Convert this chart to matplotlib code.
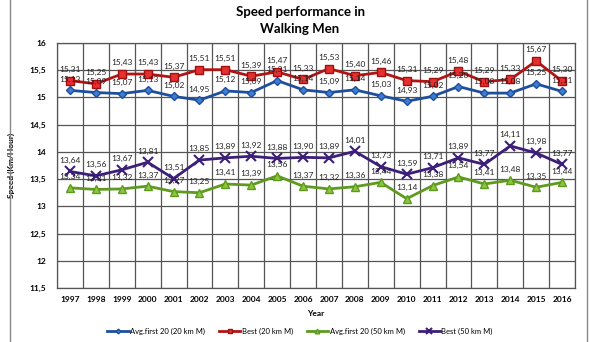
import matplotlib
matplotlib.use("Agg")
import matplotlib.pyplot as plt
import numpy as np
from matplotlib.patches import Rectangle

plt.rcParams['font.family'] = ['Lato', 'DejaVu Sans']

years = [str(y) for y in range(1997, 2017)]
avg20 = [15.13, 15.09, 15.07, 15.13, 15.02, 14.95, 15.12, 15.09, 15.31, 15.14,
         15.09, 15.14, 15.03, 14.93, 15.02, 15.20, 15.08, 15.08, 15.25, 15.11]
best20 = [15.31, 15.25, 15.43, 15.43, 15.37, 15.51, 15.51, 15.39, 15.47, 15.33,
          15.53, 15.40, 15.46, 15.31, 15.29, 15.48, 15.29, 15.33, 15.67, 15.30]
avg50 = [13.34, 13.31, 13.32, 13.37, 13.27, 13.25, 13.41, 13.39, 13.56, 13.37,
         13.32, 13.36, 13.44, 13.14, 13.38, 13.54, 13.41, 13.48, 13.35, 13.44]
best50 = [13.64, 13.56, 13.67, 13.81, 13.51, 13.85, 13.89, 13.92, 13.88, 13.90,
          13.89, 14.01, 13.73, 13.59, 13.71, 13.89, 13.77, 14.11, 13.98, 13.77]
yticks = [11.5, 12, 12.5, 13, 13.5, 14, 14.5, 15, 15.5, 16]

names = ["Avg.first 20 (20 km M)", "Best (20 km M)", "Avg.first 20 (50 km M)", "Best (50 km M)"]
series = [avg20, best20, avg50, best50]
styles = [
    dict(color="#1F4E9C", marker="D", markersize=4, markerfacecolor="#3D7CD0", markeredgecolor="#1F4E9C"),
    dict(color="#B01515", marker="s", markersize=6, markerfacecolor="#E53030", markeredgecolor="#A01010"),
    dict(color="#5E9A1E", marker="^", markersize=5.5, markerfacecolor="#8CC63F", markeredgecolor="#5E9A1E"),
    dict(color="#3B1F78", marker="x", markersize=7, markeredgewidth=1.5, markeredgecolor="#3B1F78"),
]

fig = plt.figure(figsize=(6, 3.42), dpi=100)
ax = fig.add_axes([57/600, 1-288/342, (575-57)/600, (288-43)/342])

x = np.arange(len(years))

def fmt(v):
    return f"{v:.2f}".replace(".", ",")

for vals, name, st in zip(series, names, styles):
    ax.plot(x, vals, linewidth=2, label=name, **st)
    for xi, v in zip(x, vals):
        ax.annotate(fmt(v), (xi, v), xytext=(0, 5.5), textcoords="offset points",
                    ha="center", va="bottom", fontsize=6, color="#222222")

ax.set_xlim(-0.5, len(years) - 0.5)
ax.set_ylim(11.5, 16)
ax.set_yticks(yticks)
ax.set_yticklabels([f"{t:g}".replace(".", ",") for t in yticks], fontsize=6, fontweight="bold")
ax.set_xticks(x)
ax.set_xticklabels(years, fontsize=6, fontweight="bold")
ax.set_xticks(np.arange(-0.5, len(years)), minor=True)
ax.tick_params(axis="x", which="both", length=0, pad=6)
ax.tick_params(axis="y", length=0, pad=8)
ax.grid(True, axis="y", which="major", color="#555555", linewidth=0.9)
ax.grid(True, axis="x", which="minor", color="#555555", linewidth=0.9)
for s in ax.spines.values():
    s.set_color("#555555")
    s.set_linewidth(0.9)
ax.set_xlabel("Year", fontsize=6, fontweight="bold", labelpad=5)
ax.set_ylabel("Speed (Km/Hour)", fontsize=6, fontweight="bold", labelpad=10)

fig.text(0.5, 1-12/342, "Speed performance in", ha="center", va="center", fontsize=9.5, fontweight="bold")
fig.text(0.5, 1-29/342, "Walking Men", ha="center", va="center", fontsize=9.5, fontweight="bold")

ax.legend(loc="center", bbox_to_anchor=(300/600, 1-331/342), bbox_transform=fig.transFigure,
          ncol=4, frameon=False, fontsize=5.5, handlelength=2.8, columnspacing=1.8,
          handletextpad=0.2, markerscale=0.6)

fig.patches.append(Rectangle((10/600, -0.01), (587-10)/600, 1.05, transform=fig.transFigure,
                             fill=False, edgecolor="#888888", linewidth=1))

fig.savefig("out.png", dpi=100)
